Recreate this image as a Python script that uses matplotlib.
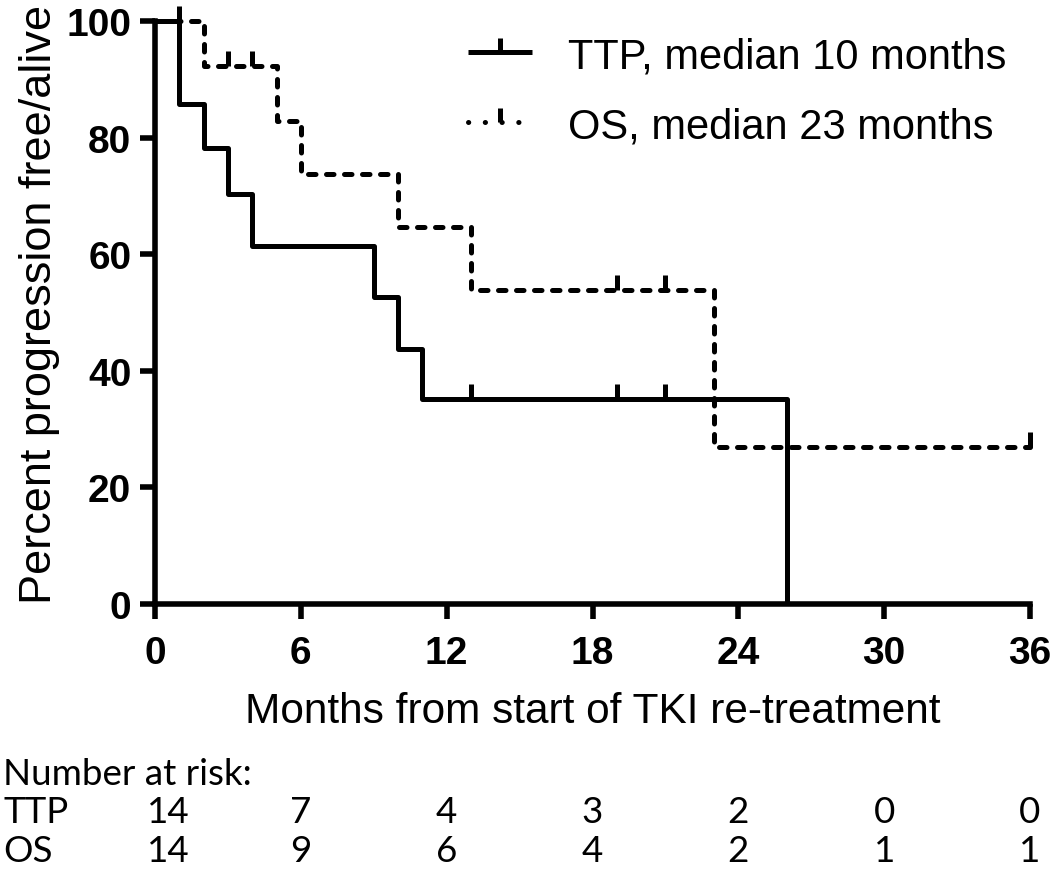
import numpy as np
import matplotlib.pyplot as plt
from matplotlib.lines import Line2D

# Kaplan-Meier steps
ttp_t = [0, 1, 2, 3, 4, 9, 10, 11, 26]
ttp_s = [100, 85.7, 78.3, 70.3, 61.4, 52.7, 43.8, 35.1, 0]
ttp_cens_t = [1, 13, 19, 21]
ttp_cens_s = [100, 35.1, 35.1, 35.1]

os_t = [0, 2, 5, 6, 10, 13, 23, 36]
os_s = [100, 92.3, 82.9, 73.8, 64.6, 53.9, 26.9, 26.9]
os_cens_t = [3, 4, 19, 21, 36]
os_cens_s = [92.3, 92.3, 53.9, 53.9, 26.9]

risk_months = [0, 6, 12, 18, 24, 30, 36]
risk_ttp = [14, 7, 4, 3, 2, 0, 0]
risk_os = [14, 9, 6, 4, 2, 1, 1]

xticks = [0, 6, 12, 18, 24, 30, 36]
yticks = [0, 20, 40, 60, 80, 100]

plt.rcParams['font.family'] = ['Liberation Sans', 'DejaVu Sans']

fig = plt.figure(figsize=(10.5, 8.7), dpi=100)
ax = fig.add_axes([0.1476, 0.3046, 0.8334, 0.6701])

lw = 3.6
ax.step(ttp_t, ttp_s, where='post', color='black', lw=lw, clip_on=False,
        solid_capstyle='butt')
ax.plot(ttp_cens_t, ttp_cens_s, ls='none', marker=2, ms=11, mew=lw,
        color='black', clip_on=False)

ax.step(os_t, os_s, where='post', color='black', lw=lw, clip_on=False,
        dashes=(1.5, 2.1), dash_capstyle='round')
ax.plot(os_cens_t, os_cens_s, ls='none', marker=2, ms=11, mew=lw,
        color='black', clip_on=False)

ax.set_xlim(0, 36)
ax.set_ylim(0, 100)
ax.set_xticks(xticks)
ax.set_yticks(yticks)
for s in ['top', 'right']:
    ax.spines[s].set_visible(False)
for s in ['left', 'bottom']:
    ax.spines[s].set_linewidth(4)
ax.tick_params(length=11, width=4, labelsize=28)
ax.tick_params(axis='x', pad=11)
ax.tick_params(axis='y', pad=6)
for lab in ax.get_xticklabels() + ax.get_yticklabels():
    lab.set_fontweight('bold')

ax.set_xlabel('Months from start of TKI re-treatment', fontsize=30.5)
ax.set_ylabel('Percent progression free/alive', fontsize=32.5)
ax.xaxis.set_label_coords(0.5, -0.15)
ax.yaxis.set_label_coords(-0.108, 0.515)

h1 = Line2D([0, 0.5, 1], [0, 0, 0], color='black', lw=lw, marker=2, ms=10,
            mew=lw, markevery=[1], solid_capstyle='butt')
h2 = Line2D([0, 0.5, 1], [0, 0, 0], color='black', lw=lw, marker=2, ms=10,
            mew=lw, markevery=[1], dashes=(0.05, 3.3), dash_capstyle='round')
ax.legend([h1, h2], ['TTP, median 10 months', 'OS, median 23 months'],
          loc='center left', bbox_to_anchor=(468 / 1050, 1 - 92 / 870),
          bbox_transform=fig.transFigure, frameon=False, borderpad=0,
          borderaxespad=0, fontsize=30, handlelength=1.53,
          handletextpad=0.86, labelspacing=0.72)

# number at risk table
tfont = dict(family=['Lato', 'Liberation Sans'], fontsize=26.5)
rows_y = [1 - 785 / 870, 1 - 823 / 870, 1 - 862 / 870]
fig.text(0.003, rows_y[0], 'Number at risk:', va='baseline', ha='left', **tfont)
fig.text(0.003, rows_y[1], 'TTP', va='baseline', ha='left', **tfont)
fig.text(0.003, rows_y[2], 'OS', va='baseline', ha='left', **tfont)
for m, a, b in zip(risk_months, risk_ttp, risk_os):
    xf = ax.transData.transform((m, 0))[0] / fig.bbox.width
    if m == 0:
        xf += 13 / 1050
    fig.text(xf, rows_y[1], str(a), va='baseline', ha='center', **tfont)
    fig.text(xf, rows_y[2], str(b), va='baseline', ha='center', **tfont)

fig.savefig('out.png', dpi=100)
